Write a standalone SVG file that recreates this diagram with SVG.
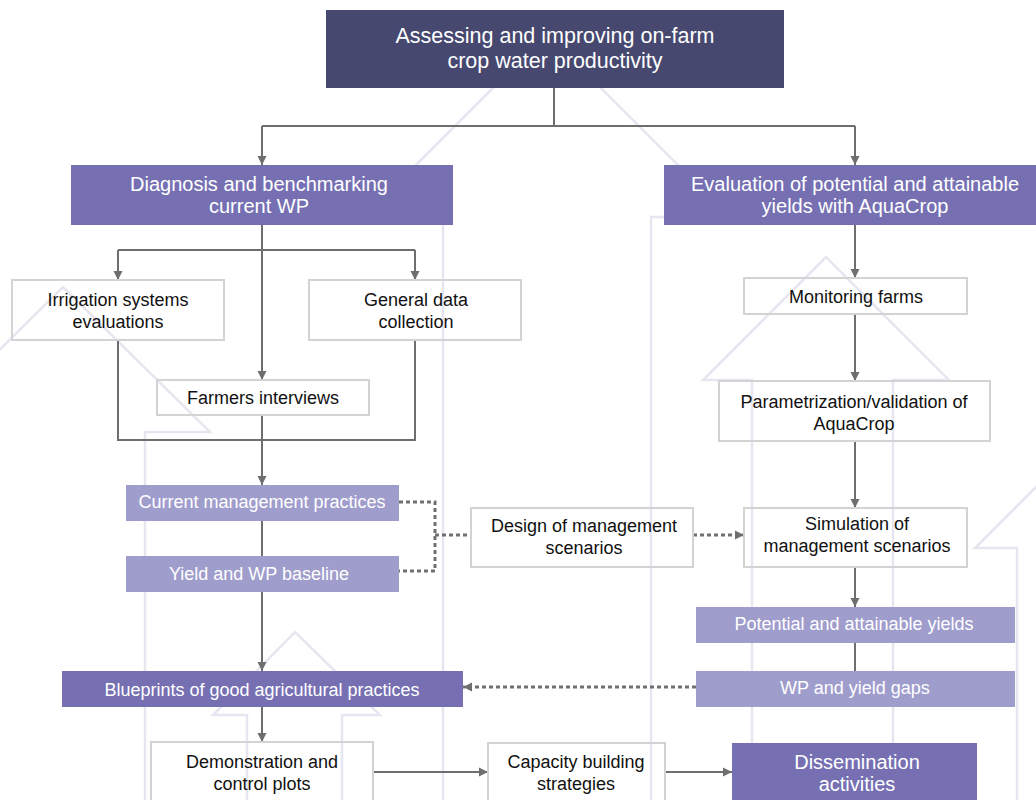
<svg xmlns="http://www.w3.org/2000/svg" width="1036" height="800" viewBox="0 0 1036 800">
<defs>
<marker id="ah" viewBox="0 0 10 10" refX="10" refY="5" markerWidth="9" markerHeight="10" markerUnits="userSpaceOnUse" orient="auto">
<path d="M0,0 L10,5 L0,10 z" fill="#6e6e6e"/>
</marker>
<style>
.bg{fill:none;stroke:#e7e5f0;stroke-width:2.5}
.wbox{fill:none;stroke:#d3d3d3;stroke-width:2}
.dark{fill:#464870}
.mid{fill:#7670b3}
.light{fill:#9f9dcc}
.c{fill:none;stroke:#6e6e6e;stroke-width:2}
.d{fill:none;stroke:#707070;stroke-width:3;stroke-dasharray:4 3}
text{font-family:"Liberation Sans",Arial,sans-serif;text-anchor:middle}
.tw{fill:#ffffff}
.tb{fill:#111111;font-size:18px}
</style>
</defs>
<rect width="1036" height="800" fill="#ffffff"/>
<g id="background">
<polyline class="bg" points="443,800 443,217 364,217 547,34 730,217 651,217 651,800"/>
<polyline class="bg" points="752,800 752,380 703,380 826,257 949,380 893,380 893,800"/>
<polyline class="bg" points="247,800 247,715 213,715 295,632 380,715 342,715 342,800"/>
<polyline class="bg" points="-19,800 -19,432 -84,432 63,287 210,432 145,432 145,800"/>
<polyline class="bg" points="1017,800 1017,548 975,548 1100,423"/>
</g>
<g id="connectors">
<path class="c" d="M554,88 V126 M262,126 H855"/>
<path class="c" d="M262,126 V165" marker-end="url(#ah)"/>
<path class="c" d="M855,126 V165" marker-end="url(#ah)"/>
<path class="c" d="M262,225 V380" marker-end="url(#ah)"/>
<path class="c" d="M118,250 H415"/>
<path class="c" d="M118,250 V280" marker-end="url(#ah)"/>
<path class="c" d="M415,250 V280" marker-end="url(#ah)"/>
<path class="c" d="M118,340 V440 H415 V340"/>
<path class="c" d="M262,415 V485" marker-end="url(#ah)"/>
<path class="c" d="M262,521 V556"/>
<path class="c" d="M262,592 V671" marker-end="url(#ah)"/>
<path class="c" d="M262,707 V742" marker-end="url(#ah)"/>
<path class="c" d="M373,772 H488" marker-end="url(#ah)"/>
<path class="c" d="M665,772 H732" marker-end="url(#ah)"/>
<path class="c" d="M855,225 V278" marker-end="url(#ah)"/>
<path class="c" d="M855,314 V381" marker-end="url(#ah)"/>
<path class="c" d="M855,441 V508" marker-end="url(#ah)"/>
<path class="c" d="M855,567 V607" marker-end="url(#ah)"/>
<path class="c" d="M855,643 V671"/>
<path class="d" d="M399,502 H435 V571 H399"/>
<path class="d" d="M435,535 H471"/>
<path class="d" d="M693,535 H744" marker-end="url(#ah)"/>
<path class="d" d="M696,687 H463" marker-end="url(#ah)"/>
</g>
<g id="title">
<rect class="dark" x="326" y="10" width="458" height="78"/>
<text class="tw" font-size="21.5" x="555" y="43">Assessing and improving on-farm</text>
<text class="tw" font-size="21.5" x="555" y="68">crop water productivity</text>
</g>
<g id="diagnosis">
<rect class="mid" x="71" y="165" width="382" height="60"/>
<text class="tw" font-size="20" x="259" y="191">Diagnosis and benchmarking</text>
<text class="tw" font-size="20" x="259" y="213">current WP</text>
</g>
<g id="evaluation">
<rect class="mid" x="664" y="165" width="380" height="60"/>
<text class="tw" font-size="20" x="855" y="191">Evaluation of potential and attainable</text>
<text class="tw" font-size="20" x="855" y="213">yields with AquaCrop</text>
</g>
<g id="irrigation">
<rect class="wbox" x="12" y="280" width="212" height="60"/>
<text class="tb" x="118" y="306">Irrigation systems</text>
<text class="tb" x="118" y="328">evaluations</text>
</g>
<g id="general-data">
<rect class="wbox" x="309" y="280" width="212" height="60"/>
<text class="tb" x="416" y="306">General data</text>
<text class="tb" x="416" y="328">collection</text>
</g>
<g id="farmers">
<rect class="wbox" x="157" y="380" width="212" height="35"/>
<text class="tb" x="263" y="404">Farmers interviews</text>
</g>
<g id="current-practices">
<rect class="light" x="126" y="485" width="273" height="36"/>
<text class="tw" font-size="18" x="262" y="508">Current management practices</text>
</g>
<g id="baseline">
<rect class="light" x="126" y="556" width="273" height="36"/>
<text class="tw" font-size="18" x="259" y="580">Yield and WP baseline</text>
</g>
<g id="blueprints">
<rect class="mid" x="62" y="671" width="401" height="36"/>
<text class="tw" font-size="18" x="262" y="696">Blueprints of good agricultural practices</text>
</g>
<g id="demonstration">
<rect class="wbox" x="151" y="742" width="222" height="70"/>
<text class="tb" x="262" y="768">Demonstration and</text>
<text class="tb" x="262" y="790">control plots</text>
</g>
<g id="capacity">
<rect class="wbox" x="488" y="743" width="177" height="70"/>
<text class="tb" x="576" y="768">Capacity building</text>
<text class="tb" x="576" y="790">strategies</text>
</g>
<g id="dissemination">
<rect class="mid" x="732" y="743" width="245" height="70"/>
<text class="tw" font-size="20" x="857" y="769">Dissemination</text>
<text class="tw" font-size="20" x="857" y="791">activities</text>
</g>
<g id="design">
<rect class="wbox" x="471" y="508" width="222" height="59"/>
<text class="tb" x="584" y="532">Design of management</text>
<text class="tb" x="584" y="554">scenarios</text>
</g>
<g id="monitoring">
<rect class="wbox" x="744" y="278" width="223" height="36"/>
<text class="tb" x="856" y="303">Monitoring farms</text>
</g>
<g id="parametrization">
<rect class="wbox" x="719" y="381" width="271" height="60"/>
<text class="tb" x="854" y="408">Parametrization/validation of</text>
<text class="tb" x="854" y="430">AquaCrop</text>
</g>
<g id="simulation">
<rect class="wbox" x="744" y="508" width="223" height="59"/>
<text class="tb" x="857" y="530">Simulation of</text>
<text class="tb" x="857" y="552">management scenarios</text>
</g>
<g id="potential">
<rect class="light" x="696" y="607" width="319" height="36"/>
<text class="tw" font-size="18" x="854" y="630">Potential and attainable yields</text>
</g>
<g id="gaps">
<rect class="light" x="696" y="671" width="319" height="36"/>
<text class="tw" font-size="18" x="855" y="694">WP and yield gaps</text>
</g>
</svg>
